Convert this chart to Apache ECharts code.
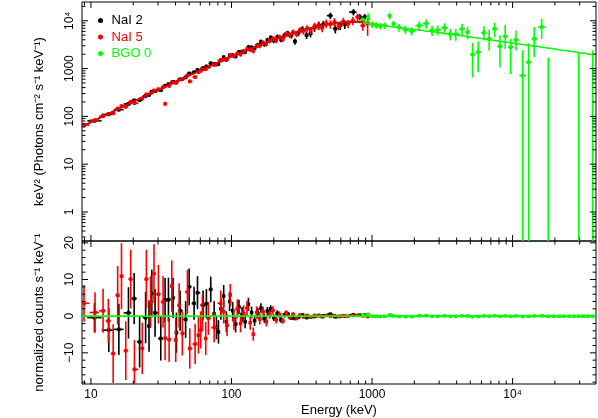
<!DOCTYPE html>
<html lang="en">
<head>
<meta charset="UTF-8">
<title>Spectral fit: NaI 2, NaI 5, BGO 0</title>
<script src="https://cdn.jsdelivr.net/npm/echarts@6/dist/echarts.min.js"></script>
<style>
  html, body { margin: 0; padding: 0; background: #fff; }
  #main { width: 598px; height: 418px; }
</style>
</head>
<body>
<div id="main"></div>
<script>
// ---- axis ranges and ticks ----
var X_MIN = 8.64, X_MAX = 39200;
var Y_MIN = 0.247, Y_MAX = 24700;
var R_MIN = -18.5, R_MAX = 20.5;

var xMajor = [10, 100, 1000, 10000];
var xMinor = [9, 20, 30, 40, 50, 60, 70, 80, 90, 200, 300, 400, 500, 600, 700, 800, 900,
              2000, 3000, 4000, 5000, 6000, 7000, 8000, 9000, 20000, 30000];
var yMajor = [1, 10, 100, 1000, 10000];
var yMinor = [0.3, 0.4, 0.5, 0.6, 0.7, 0.8, 0.9, 2, 3, 4, 5, 6, 7, 8, 9,
              20, 30, 40, 50, 60, 70, 80, 90, 200, 300, 400, 500, 600, 700, 800, 900,
              2000, 3000, 4000, 5000, 6000, 7000, 8000, 9000, 20000];
var rMajor = [-10, 0, 10, 20];
var rMinor = [-18, -16, -14, -12, -8, -6, -4, -2, 2, 4, 6, 8, 12, 14, 16, 18];

// ---- NaI 2 (black) ----
var nai2E = [10.6, 13.4, 15.8, 18.5, 20.3, 22.2, 24.5, 25.9, 27.1, 28.6, 31.4, 33.7, 35.6, 38.4, 40.6, 43.1, 47.2, 50.0, 54.2, 57.3,
             62.8, 66.3, 71.2, 75.3, 78.2, 80.8, 84, 88, 92, 97, 102, 107, 113, 119, 125, 132, 139, 146, 154, 162,
             171, 180, 190, 200, 212, 225, 238, 252, 267, 283, 300, 320, 342, 365, 390, 418, 450, 505, 548, 594,
             640, 737, 818, 887];
var nai2F = [80.7, 110, 138, 182, 216, 218, 268, 281, 328, 335, 352, 438, 471, 531, 514, 598, 655, 790, 839, 940,
             1022, 1108, 1288, 1247, 1222, 1248, 1498, 1732, 1536, 1882, 1897, 1799, 2225, 2244, 2227, 2800, 2766, 2654, 3117, 3613,
             3240, 3930, 4440, 3852, 4548, 4064, 4923, 5422, 4966, 3700, 5653, 6657, 5000, 5400, 7154, 8077, 8341, 12800, 6800, 8000,
             8400, 15200, 12000, 12000];
var nai2Err = [0.08, 0.08, 0.08, 0.08, 0.08, 0.08, 0.08, 0.08, 0.08, 0.08, 0.08, 0.08, 0.08, 0.08, 0.08, 0.08, 0.08, 0.09, 0.09, 0.09,
               0.09, 0.09, 0.09, 0.09, 0.09, 0.09, 0.09, 0.09, 0.09, 0.09, 0.1, 0.1, 0.1, 0.1, 0.1, 0.1, 0.11, 0.11, 0.11, 0.12,
               0.12, 0.12, 0.12, 0.12, 0.13, 0.13, 0.14, 0.14, 0.15, 0.15, 0.16, 0.16, 0.17, 0.17, 0.18, 0.19, 0.2, 0.15, 0.2, 0.2,
               0.2, 0.15, 0.15, 0.15];
var nai2R = [-0.4, -3.8, -3.6, 0.9, 4.8, -7.0, -0.4, -2.7, 6.2, 0.9, -6.1, 4.4, 4.5, 5.0, -4.5, 1.5, -0.9, 8.0, 3.5, 6.4,
             3.0, 3.4, 7.3, 0.6, -3.1, -4.3, 2.0, 5.5, -1.5, 4.0, 1.5, -2.2, 2.5, 0.5, -1.5, 3.2, 1.0, -1.2, 0.8, 2.2,
             -0.6, 1.4, 2.0, -0.4, 0.8, -1.0, 0.3, 0.6, -0.5, -0.6, -0.3, 0.3, -0.4, -0.3, -0.1, 0.2, 0.1, 0.55, -0.2, -0.05,
             0.0, 0.4, 0.3, 0.3];
var nai2RErr = [4, 6, 7, 7, 7, 7, 7, 7, 6.5, 6.5, 6, 6, 6, 5.5, 5.5, 5.5, 5, 5, 4.5, 4.5,
                4, 4, 3.5, 3.5, 3.2, 3.2, 3, 3, 2.8, 2.6, 2.4, 2.2, 2, 2, 1.8, 1.8, 1.6, 1.5, 1.4, 1.3,
                1.2, 1.1, 1.0, 0.9, 0.8, 0.8, 0.7, 0.6, 0.5, 0.5, 0.4, 0.4, 0.35, 0.3, 0.3, 0.25, 0.25, 0.2, 0.2, 0.18,
                0.16, 0.15, 0.15, 0.15];

// ---- NaI 5 (red) ----
var nai5E = [8.93, 10.7, 12.2, 13.3, 14.4, 15.5, 16.5, 17.7, 19.2, 20.4, 23.2, 24.8, 26.6, 28.1, 30.2, 32.6, 33.7, 36.0, 37.6, 40.1,
             42.4, 44.7, 48.6, 50.5, 55.1, 58.2, 60.4, 62.1, 65.6, 68.5, 75.3, 83.9, 88, 93, 98, 104, 110, 116, 122, 129,
             136, 143, 151, 159, 168, 177, 187, 197, 208, 220, 232, 245, 259, 274, 290, 307, 325, 345, 366, 390,
             415, 442, 472, 505, 540, 580, 625, 675, 730, 790, 860, 930];
var nai5F = [65.7, 83.4, 101, 112, 117, 146, 164, 159, 201, 189, 237, 288, 306, 348, 370, 408, 184, 434, 512, 505,
             583, 597, 718, 540, 665, 845, 896, 959, 968, 1079, 1198, 1496, 1549, 1560, 1906, 1831, 2076, 1986, 2324, 2555,
             2486, 2337, 3020, 3011, 3442, 3295, 3805, 4256, 3883, 4546, 4101, 5324, 5040, 5788, 5299, 6369, 6106, 6958, 6282, 7738,
             7828, 7083, 8867, 8510, 9418, 7885, 9618, 8668, 10047, 12000, 7900, 8800];
var nai5Err = [0.08, 0.08, 0.08, 0.08, 0.09, 0.09, 0.09, 0.09, 0.09, 0.09, 0.09, 0.09, 0.09, 0.09, 0.09, 0.09, 0.1, 0.09, 0.09, 0.09,
               0.09, 0.09, 0.09, 0.09, 0.09, 0.09, 0.09, 0.09, 0.09, 0.09, 0.1, 0.1, 0.1, 0.1, 0.1, 0.1, 0.11, 0.11, 0.11, 0.11,
               0.11, 0.11, 0.12, 0.12, 0.12, 0.12, 0.12, 0.12, 0.13, 0.13, 0.13, 0.14, 0.14, 0.14, 0.15, 0.15, 0.16, 0.16, 0.17, 0.17,
               0.19, 0.19, 0.2, 0.2, 0.2, 0.2, 0.2, 0.2, 0.2, 0.18, 0.22, 0.45];
var nai5R = [3.5, 1.0, 1.45, -1.3, -10.2, 5.7, 10.9, -9.4, 10.1, -14.5, -8.8, 10.1, 3.9, 11.6, 6.0, 3.9, -6.0, -6.4, 8.2, -6.5,
             3.0, -4.7, 6.6, -8.8, -7.6, -5.2, -3.8, 0.9, -6.1, -0.6, -3.1, 3.5, 1.2, -2.5, 5.8, -1.0, 2.0, -2.0, 0.8, 2.2,
             -1.8, -4.9, 1.0, -0.8, 1.2, -1.5, 0.5, 1.6, -1.0, 0.4, -1.3, 0.9, -0.3, 0.5, -0.6, 0.3, -0.2, 0.2, -0.3, 0.2,
             0.1, -0.2, 0.2, 0.0, 0.15, -0.1, 0.1, 0.0, 0.2, 0.2, 0.1, -0.1];
var nai5RErr = [5, 5.5, 6, 6, 8, 8, 9, 8, 8, 8, 7, 8, 7, 8, 8, 7, 6, 6, 7, 6,
                6, 6, 6, 5.5, 5.5, 5, 5, 5, 4.5, 4.5, 4, 3.5, 3.2, 3, 3, 2.8, 2.6, 2.4, 2.2, 2.0,
                1.9, 1.8, 1.7, 1.5, 1.4, 1.3, 1.2, 1.1, 1.0, 0.9, 0.8, 0.7, 0.6, 0.55, 0.5, 0.45, 0.4, 0.35, 0.3, 0.3,
                0.25, 0.25, 0.2, 0.2, 0.2, 0.18, 0.17, 0.16, 0.15, 0.15, 0.15, 0.15];

// ---- BGO 0 (green); flux 0 = no point drawn, low 0 = bar runs off the bottom ----
var bgoE = [863, 940, 1003, 1071, 1144, 1231, 1336, 1420, 1556, 1728, 1917, 2162, 2426, 2673, 2929, 3282, 3600, 3945, 4368, 4786,
            5188, 5689, 6250, 6810, 7447, 8126, 8859, 9680, 10560, 11780, 13000, 14250, 16100, 17950, 19530, 21380, 23190, 25170, 27330, 29530,
            31920, 34360, 37150];
var bgoF = [10340, 11560, 8320, 8080, 7820, 7930, 12680, 8610, 7260, 6500, 6080, 7930, 8730, 6350, 6440, 7130, 5260, 5230, 6760, 5790,
            1970, 2200, 5600, 4190, 6790, 2940, 4700, 2800, 3990, 713, 1355, 4190, 7380, 0, 0, 0, 0, 0, 0, 0,
            0, 0, 0];
var bgoHi = [11600, 14300, 9600, 9300, 9000, 9200, 14700, 10000, 8700, 7800, 7300, 9700, 10600, 7900, 8000, 8900, 6700, 6700, 8600, 7500,
             3450, 3690, 7740, 6600, 9080, 4930, 8240, 4190, 6280, 2420, 3350, 7380, 11000, 1700, 0, 0, 0, 0, 0, 2200,
             0, 0, 2400];
var bgoLo = [9100, 9500, 7100, 6900, 6650, 6700, 10700, 7300, 5900, 5200, 4900, 6200, 6900, 4800, 4900, 5400, 3900, 3800, 5000, 4100,
             656, 836, 4070, 2390, 4550, 1070, 2580, 770, 2390, 0, 0, 1730, 4190, 0, 0, 0, 0, 0, 0, 0,
             0, 0, 0];
var bgoR = [0.2, 0.5, 0.0, -0.05, -0.1, -0.05, 0.35, 0.05, -0.1, -0.1, -0.1, 0.1, 0.15, -0.05, -0.05, 0.1, -0.05, -0.05, 0.1, 0.05,
            -0.15, -0.1, 0.05, 0.0, 0.1, -0.05, 0.05, -0.05, 0.05, -0.1, -0.05, 0.05, 0.1, -0.05, -0.03, -0.03, -0.03, -0.03, -0.03, -0.02,
            -0.02, -0.02, -0.02];
var bgoRErr = [0.2, 0.2, 0.2, 0.2, 0.2, 0.2, 0.2, 0.2, 0.2, 0.2, 0.2, 0.2, 0.2, 0.2, 0.2, 0.2, 0.2, 0.2, 0.2, 0.2,
               0.15, 0.15, 0.15, 0.15, 0.15, 0.15, 0.15, 0.15, 0.15, 0.15, 0.15, 0.15, 0.15, 0.15, 0.15, 0.15, 0.15, 0.15, 0.15, 0.15,
               0.15, 0.15, 0.15];

// ---- model curves ----
var naiModelE = [8.6, 10, 12, 15, 20, 25, 30, 40, 50, 60, 70, 80, 100, 120, 150, 200, 250, 300, 350, 400, 450, 500, 600, 700, 800, 900];
var naiModelF = [60.5, 75, 98, 134, 202, 276, 356, 530, 718, 917, 1125, 1340, 1781, 2233, 2910, 4013, 5030, 5950, 6760, 7445, 8020, 8480, 9100, 9380, 9390, 9180];
var bgoModelF = [9030, 8730, 8520, 8290, 8090, 7860, 7610, 7430, 7170, 6880, 6600, 6300, 6020, 5800, 5590, 5350, 5160, 4980, 4790, 4620,
                 4470, 4300, 4130, 3980, 3840, 3700, 3570, 3440, 3310, 3160, 3030, 2920, 2770, 2650, 2560, 2460, 2380, 2300, 2220, 2150,
                 2080, 1990, 1910];

var BLACK = '#000000', RED = '#ff0000', GREEN = '#00ff00';
var FONT = '"Liberation Sans", Arial, Helvetica, sans-serif';
var LW = 1.6;

// bin edges halfway (in log) between neighbouring channels
function binEdges(E) {
  var lo = [], hi = [];
  for (var i = 0; i < E.length; i++) {
    var a = i > 0 ? Math.sqrt(E[i - 1] * E[i]) : null;
    var b = i < E.length - 1 ? Math.sqrt(E[i] * E[i + 1]) : null;
    if (a === null) a = E[i] * E[i] / b;
    if (b === null) b = E[i] * E[i] / a;
    lo.push(a); hi.push(b);
  }
  return [lo, hi];
}

function fluxRows(E, F, f) {
  var ed = binEdges(E), rows = [];
  for (var i = 0; i < E.length; i++) rows.push([E[i], F[i], ed[0][i], ed[1][i], F[i] * (1 - f[i]), F[i] * (1 + f[i])]);
  return rows;
}
function resRows(E, R, s) {
  var ed = binEdges(E), rows = [];
  for (var i = 0; i < E.length; i++) rows.push([E[i], R[i], ed[0][i], ed[1][i], R[i] - s[i], R[i] + s[i]]);
  return rows;
}
function bgoRows() {
  var ed = binEdges(bgoE), rows = [];
  for (var i = 0; i < bgoE.length; i++) {
    if (bgoHi[i] > 0) rows.push([bgoE[i], bgoF[i], ed[0][i], ed[1][i], bgoLo[i], bgoHi[i]]);
  }
  return rows;
}
function pairs(a, b) {
  var out = [];
  for (var i = 0; i < a.length; i++) out.push([a[i], b[i]]);
  return out;
}

function clamp(v, a, b) { return Math.max(a, Math.min(b, v)); }

// error cross: horizontal bin bar, vertical error bar, small dot
function crossRender(color, isLog) {
  return function (params, api) {
    var cs = params.coordSys;
    var top = cs.y, bot = cs.y + cs.height, left = cs.x, right = cs.x + cs.width;
    var e = api.value(0), v = api.value(1), e0 = api.value(2), e1 = api.value(3);
    var lo = api.value(4), hi = api.value(5);
    var yref = isLog ? hi : 0;
    var py = function (val) {
      if (isLog && !(val > 0)) return bot;
      return api.coord([e, val])[1];
    };
    var px = api.coord([e, yref])[0];
    var kids = [];
    var yh = clamp(py(hi), top, bot), yl = clamp(py(lo), top, bot);
    if (yl - yh > 0) {
      kids.push({ type: 'line', shape: { x1: px, y1: yh, x2: px, y2: yl }, style: { stroke: color, lineWidth: LW } });
    }
    if (!isLog || v > 0) {
      var yc = py(v);
      if (yc >= top && yc <= bot) {
        var x0 = clamp(api.coord([e0, yref])[0], left, right);
        var x1 = clamp(api.coord([e1, yref])[0], left, right);
        kids.push({ type: 'line', shape: { x1: x0, y1: yc, x2: x1, y2: yc }, style: { stroke: color, lineWidth: LW } });
        kids.push({ type: 'rect', shape: { x: px - 1.75, y: yc - 1.75, width: 3.5, height: 3.5 }, style: { fill: color } });
      }
    }
    return { type: 'group', children: kids };
  };
}

// inward tick marks on all four sides of a panel
function xTickRender(yref) {
  return function (params, api) {
    var cs = params.coordSys;
    var x = api.coord([api.value(0), yref])[0];
    var len = api.value(1) ? 6 : 3.5;
    return { type: 'group', children: [
      { type: 'line', shape: { x1: x, y1: cs.y, x2: x, y2: cs.y + len }, style: { stroke: '#000', lineWidth: 1 } },
      { type: 'line', shape: { x1: x, y1: cs.y + cs.height, x2: x, y2: cs.y + cs.height - len }, style: { stroke: '#000', lineWidth: 1 } }
    ] };
  };
}
function yTickRender() {
  return function (params, api) {
    var cs = params.coordSys;
    var y = api.coord([100, api.value(0)])[1];
    var len = api.value(1) ? 6 : 3.5;
    return { type: 'group', children: [
      { type: 'line', shape: { x1: cs.x, y1: y, x2: cs.x + len, y2: y }, style: { stroke: '#000', lineWidth: 1 } },
      { type: 'line', shape: { x1: cs.x + cs.width, y1: y, x2: cs.x + cs.width - len, y2: y }, style: { stroke: '#000', lineWidth: 1 } }
    ] };
  };
}
function tickRows(major, minor) {
  var rows = [];
  major.forEach(function (v) { rows.push([v, 1]); });
  minor.forEach(function (v) { rows.push([v, 0]); });
  return rows;
}

function powLabel(v) {
  var l = Math.log(v) / Math.LN10, r = Math.round(l);
  if (Math.abs(l - r) > 1e-6) return '';
  if (r >= 4) return '10\u2074';
  return String(Math.round(Math.pow(10, r)));
}
function resLabel(v) {
  if (Math.abs(v % 10) > 1e-6) return '';
  return v < 0 ? '\u2212' + (-v) : String(v);
}

var chart = echarts.init(document.getElementById('main'));
var labelStyle = { color: '#000', fontFamily: FONT, fontSize: 12 };
var nameStyle = { color: '#000', fontFamily: FONT, fontSize: 13 };

var option = {
  animation: false,
  backgroundColor: '#fff',
  grid: [
    { left: 82, right: 2, top: 2, height: 239, show: true, borderColor: '#000', borderWidth: 1 },
    { left: 82, right: 2, top: 241, height: 143, show: true, borderColor: '#000', borderWidth: 1 }
  ],
  xAxis: [
    { gridIndex: 0, type: 'log', min: X_MIN, max: X_MAX, axisLine: { show: false }, axisTick: { show: false },
      axisLabel: { show: false }, splitLine: { show: false } },
    { gridIndex: 1, type: 'log', min: X_MIN, max: X_MAX, axisLine: { show: false }, axisTick: { show: false },
      splitLine: { show: false },
      axisLabel: Object.assign({ formatter: powLabel, margin: 5, showMinLabel: false, showMaxLabel: false }, labelStyle),
      name: 'Energy (keV)', nameLocation: 'middle', nameGap: 20, nameTextStyle: nameStyle }
  ],
  yAxis: [
    { gridIndex: 0, type: 'log', min: Y_MIN, max: Y_MAX, axisLine: { show: false }, axisTick: { show: false },
      splitLine: { show: false },
      axisLabel: Object.assign({ formatter: powLabel, rotate: 90, margin: 6, showMinLabel: false, showMaxLabel: false }, labelStyle),
      name: 'keV\u00b2 (Photons cm\u207b\u00b2 s\u207b\u00b9 keV\u207b\u00b9)', nameLocation: 'middle', nameRotate: 90, nameGap: 36,
      nameTextStyle: nameStyle },
    { gridIndex: 1, type: 'value', min: R_MIN, max: R_MAX, axisLine: { show: false }, axisTick: { show: false },
      splitLine: { show: false },
      axisLabel: Object.assign({ formatter: resLabel, rotate: 90, margin: 6, showMinLabel: false, showMaxLabel: false }, labelStyle),
      name: 'normalized counts s\u207b\u00b9 keV\u207b\u00b9', nameLocation: 'middle', nameRotate: 90, nameGap: 36,
      nameTextStyle: nameStyle }
  ],
  legend: {
    left: 93, top: 9, orient: 'vertical', itemWidth: 5, itemHeight: 5, itemGap: 3.5, icon: 'circle',
    textStyle: { fontFamily: FONT, fontSize: 13 },
    formatter: function (name) { return ' ' + name; },
    data: [
      { name: 'NaI 2', textStyle: { color: BLACK } },
      { name: 'NaI 5', textStyle: { color: RED } },
      { name: 'BGO 0', textStyle: { color: GREEN } }
    ]
  },
  series: [
    // NaI 2
    { name: 'NaI 2', type: 'custom', xAxisIndex: 0, yAxisIndex: 0, itemStyle: { color: BLACK }, clip: true,
      renderItem: crossRender(BLACK, true), encode: { x: 0, y: 1 }, data: fluxRows(nai2E, nai2F, nai2Err) },
    { name: 'model 2', type: 'line', xAxisIndex: 0, yAxisIndex: 0, symbol: 'none', lineStyle: { color: BLACK, width: 1.6 },
      data: pairs(naiModelE, naiModelF) },
    { name: 'NaI 2', type: 'custom', xAxisIndex: 1, yAxisIndex: 1, itemStyle: { color: BLACK }, clip: true,
      renderItem: crossRender(BLACK, false), encode: { x: 0, y: 1 }, data: resRows(nai2E, nai2R, nai2RErr) },
    // NaI 5
    { name: 'NaI 5', type: 'custom', xAxisIndex: 0, yAxisIndex: 0, itemStyle: { color: RED }, clip: true,
      renderItem: crossRender(RED, true), encode: { x: 0, y: 1 }, data: fluxRows(nai5E, nai5F, nai5Err) },
    { name: 'model 5', type: 'line', xAxisIndex: 0, yAxisIndex: 0, symbol: 'none', lineStyle: { color: RED, width: 1.6 },
      data: pairs(naiModelE, naiModelF) },
    { name: 'NaI 5', type: 'custom', xAxisIndex: 1, yAxisIndex: 1, itemStyle: { color: RED }, clip: true,
      renderItem: crossRender(RED, false), encode: { x: 0, y: 1 }, data: resRows(nai5E, nai5R, nai5RErr) },
    // BGO 0
    { name: 'BGO 0', type: 'custom', xAxisIndex: 0, yAxisIndex: 0, itemStyle: { color: GREEN }, clip: true,
      renderItem: crossRender(GREEN, true), encode: { x: 0, y: 5 }, data: bgoRows() },
    { name: 'model 0', type: 'line', xAxisIndex: 0, yAxisIndex: 0, symbol: 'none', step: 'middle',
      lineStyle: { color: GREEN, width: 1.5 }, data: pairs(bgoE, bgoModelF) },
    { name: 'BGO 0', type: 'custom', xAxisIndex: 1, yAxisIndex: 1, itemStyle: { color: GREEN }, clip: true,
      renderItem: crossRender(GREEN, false), encode: { x: 0, y: 1 }, data: resRows(bgoE, bgoR, bgoRErr) },
    { name: 'zero', type: 'line', xAxisIndex: 1, yAxisIndex: 1, symbol: 'none', lineStyle: { color: GREEN, width: 1.6 },
      data: [[X_MIN, 0], [X_MAX, 0]] },
    // tick marks
    { type: 'custom', xAxisIndex: 0, yAxisIndex: 0, renderItem: xTickRender(1), encode: { x: 0 }, silent: true,
      data: tickRows(xMajor, xMinor) },
    { type: 'custom', xAxisIndex: 1, yAxisIndex: 1, renderItem: xTickRender(0), encode: { x: 0 }, silent: true,
      data: tickRows(xMajor, xMinor) },
    { type: 'custom', xAxisIndex: 0, yAxisIndex: 0, renderItem: yTickRender(), encode: { y: 0 }, silent: true,
      data: tickRows(yMajor, yMinor) },
    { type: 'custom', xAxisIndex: 1, yAxisIndex: 1, renderItem: yTickRender(), encode: { y: 0 }, silent: true,
      data: tickRows(rMajor, rMinor) }
  ]
};
chart.setOption(option);
</script>
</body>
</html>
